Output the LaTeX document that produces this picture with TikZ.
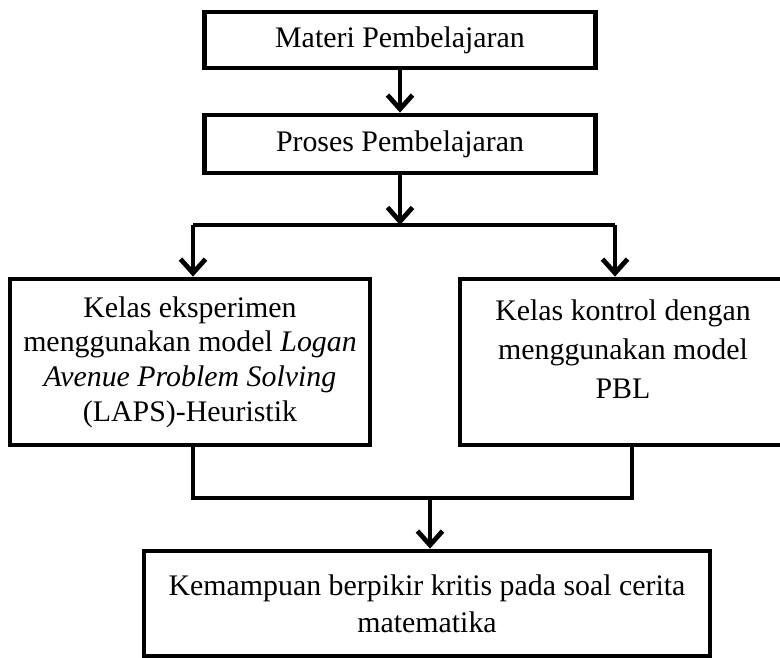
\documentclass[tikz,border=0pt]{standalone}
\usepackage{fontspec}
\setmainfont{Liberation Serif}
\usetikzlibrary{arrows.meta}

\tikzset{
  kotak/.style={draw, line width=0.095cm, rectangle, align=center, inner sep=0pt,
    font=\fontsize{17}{19.8}\selectfont},
  garis/.style={line width=0.095cm},
  panah/.style={line width=0.095cm, -{Straight Barb[length=0.28cm,width=0.5cm]}}
}

\begin{document}
\begin{tikzpicture}[x=0.02cm,y=-0.02cm]
\useasboundingbox (0,0) rectangle (780,658);

% kotak-kotak
\node[kotak, minimum width=7.82cm, minimum height=1.12cm] at (400,40) (materi) {Materi Pembelajaran};
\node[kotak, minimum width=7.82cm, minimum height=1.16cm] at (400,144) (proses) {Proses Pembelajaran};
\node[kotak, minimum width=7.2cm, minimum height=3.32cm] at (190,362) (eksperimen)
  {Kelas eksperimen\\ menggunakan model \textit{Logan}\\ \textit{Avenue Problem Solving}\\ (LAPS)-Heuristik};
\node[kotak, minimum width=6.48cm, minimum height=3.32cm] at (622,362) (kontrol) {};
\node[align=center, inner sep=0pt, font=\fontsize{17}{22.2}\selectfont] at (623,349) (kontroltxt)
  {Kelas kontrol dengan\\ menggunakan model\\ PBL};
\node[kotak, minimum width=11.32cm, minimum height=2.1cm, font=\fontsize{17}{21}\selectfont] at (427,603.5) (hasil)
  {Kemampuan berpikir kritis pada soal cerita\\ matematika};

% titik cabang
\coordinate (cabang) at (400,225);
\coordinate (kiri) at (193,225);
\coordinate (kanan) at (615,225);
\coordinate (gabungkiri) at (193,498);
\coordinate (gabungkanan) at (632,498);
\coordinate (gabung) at (430,498);

% panah
\draw[panah] (materi) -- (proses);
\draw[panah] (proses) -- (cabang);
\draw[garis] (kiri) -- (kanan);
\draw[panah] (kiri) -- (kiri |- eksperimen.north);
\draw[panah] (kanan) -- (kanan |- kontrol.north);

\draw[garis] (gabungkiri |- eksperimen.south) -- (gabungkiri) -- (gabungkanan) -- (gabungkanan |- kontrol.south);
\draw[panah] (gabung) -- (gabung |- hasil.north);

\end{tikzpicture}
\end{document}
